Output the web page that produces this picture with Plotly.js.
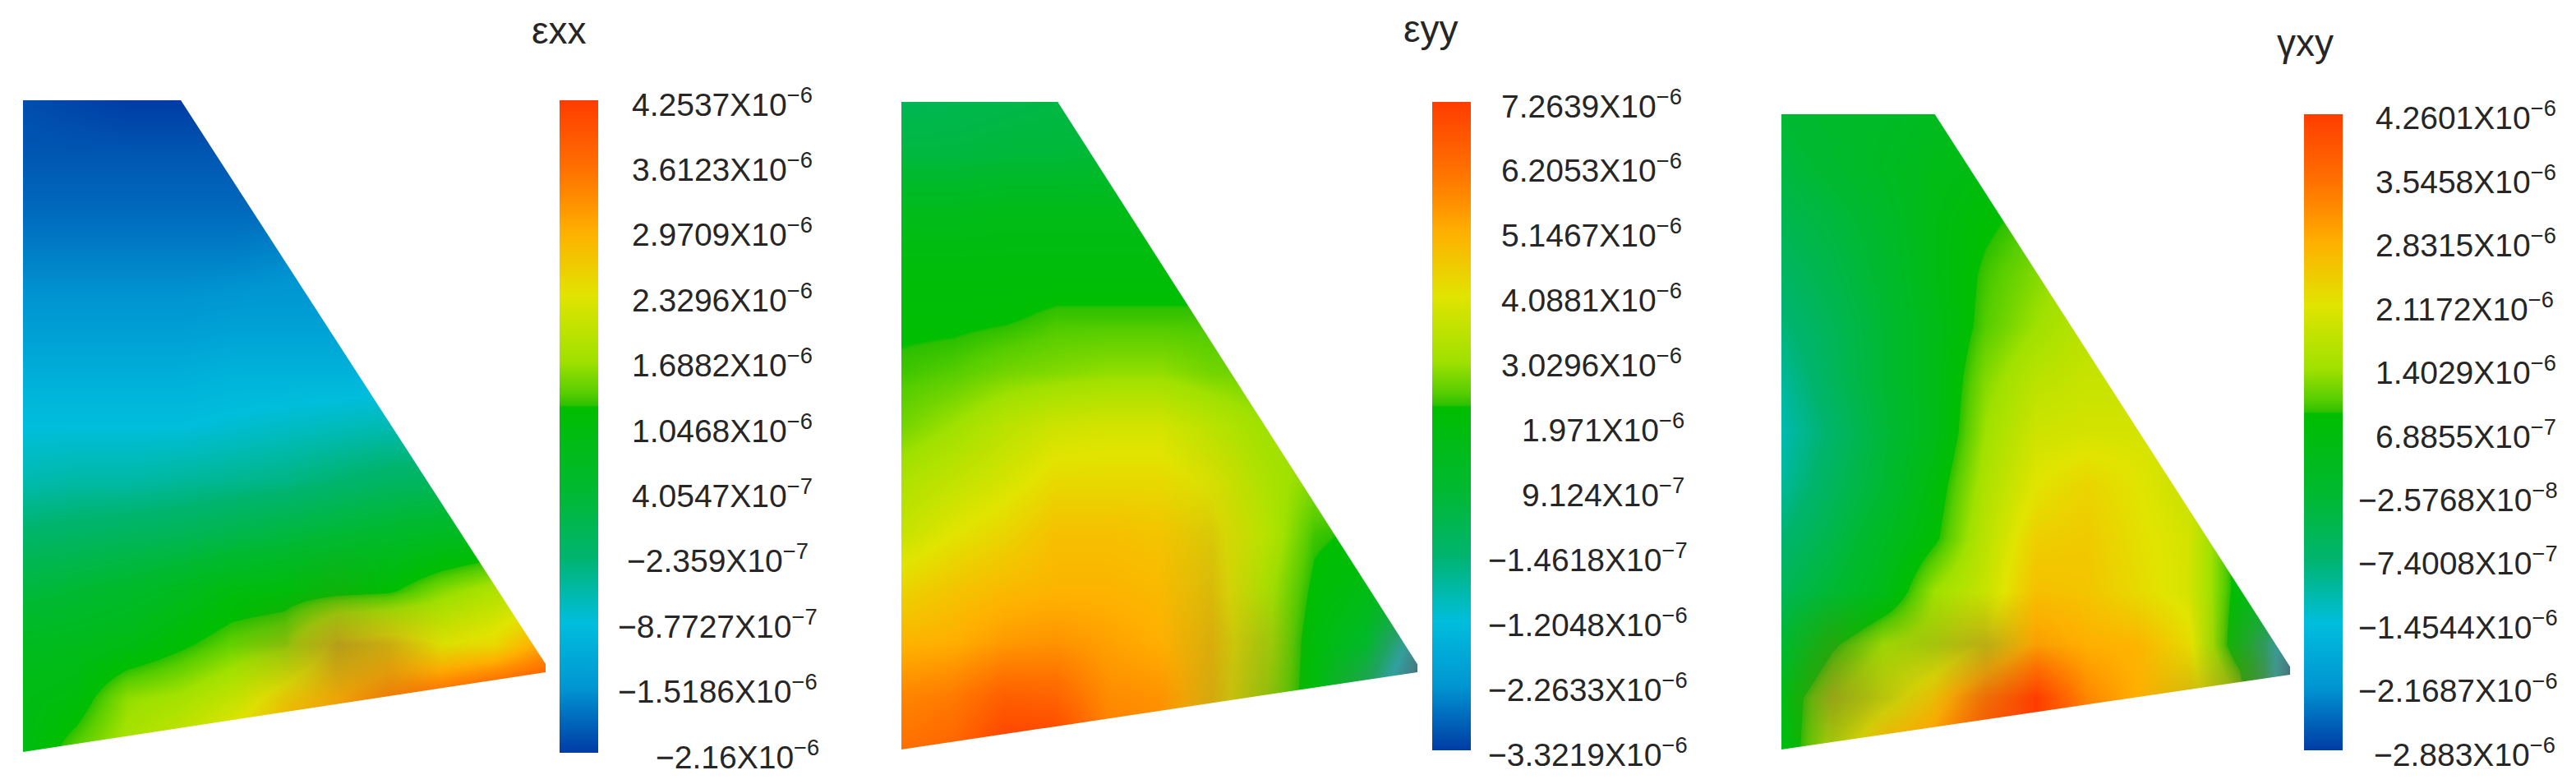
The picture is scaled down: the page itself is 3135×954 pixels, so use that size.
<!DOCTYPE html>
<html>
<head>
<meta charset="utf-8">
<script src="https://cdn.plot.ly/plotly-3.0.1.min.js"></script>
<style>html,body{margin:0;padding:0;background:#fff}</style>
</head>
<body>
<div id="chart" style="width:3135px;height:954px"></div>
<script>
// ---------- values ----------
var gridX = [0,0.1,0.2,0.3,0.4,0.5,0.6,0.7,0.8,0.9,1];
var gridY = [1,0.9167,0.8333,0.75,0.6667,0.5833,0.5,0.4167,0.3333,0.25,0.1667,0.0833,0];

// position of each sampled value on its legend: 0 = legend bottom, 1 = legend top
var exxLevels = [
 [.02,.01,.00,.00,.00,.01,.01,.01,.01,.01,.01],
 [.03,.03,.03,.03,.03,.03,.03,.03,.03,.03,.03],
 [.05,.05,.05,.05,.05,.05,.05,.05,.05,.05,.05],
 [.08,.08,.08,.08,.08,.09,.09,.09,.09,.09,.09],
 [.11,.11,.11,.11,.12,.12,.12,.12,.12,.12,.12],
 [.16,.16,.16,.16,.17,.17,.17,.17,.17,.17,.17],
 [.20,.20,.20,.20,.21,.22,.23,.24,.24,.24,.24],
 [.24,.25,.25,.26,.27,.28,.30,.32,.33,.33,.33],
 [.31,.32,.33,.34,.36,.38,.40,.42,.44,.46,.46],
 [.38,.40,.42,.45,.49,.50,.51,.52,.58,.62,.64],
 [.45,.46,.48,.52,.56,.58,.72,.74,.70,.72,.82],
 [.48,.50,.59,.61,.65,.74,.80,.87,.92,.98,1.0],
 [.48,.56,.62,.67,.74,.82,.88,.92,.96,1.0,1.0]
];
var eyyLevels = [
 [.34,.35,.36,.37,.38,.38,.38,.38,.38,.38,.38],
 [.38,.38,.39,.39,.40,.40,.40,.40,.40,.40,.40],
 [.46,.46,.47,.47,.47,.47,.47,.47,.47,.47,.47],
 [.50,.50,.50,.50,.50,.50,.50,.50,.50,.50,.50],
 [.52,.52,.525,.54,.54,.54,.54,.54,.54,.54,.54],
 [.54,.55,.57,.58,.59,.59,.57,.565,.56,.56,.56],
 [.57,.60,.64,.67,.68,.68,.64,.60,.60,.60,.60],
 [.62,.65,.68,.72,.72,.72,.69,.62,.58,.58,.58],
 [.66,.70,.73,.77,.77,.76,.72,.64,.54,.52,.52],
 [.73,.76,.78,.79,.79,.78,.74,.62,.52,.48,.46],
 [.79,.80,.83,.84,.82,.80,.76,.62,.50,.42,.15],
 [.86,.88,.93,.92,.85,.84,.76,.60,.50,.30,.00],
 [.90,.92,1.0,1.0,.88,.86,.76,.60,.50,.20,.00]
];
var gxyLevels = [
 [.40,.42,.43,.45,.46,.46,.46,.46,.46,.46,.46],
 [.38,.41,.44,.47,.49,.49,.49,.49,.49,.49,.49],
 [.35,.38,.42,.48,.52,.55,.56,.56,.56,.56,.56],
 [.32,.36,.41,.48,.54,.58,.62,.62,.62,.62,.62],
 [.29,.34,.40,.47,.55,.60,.64,.64,.64,.64,.64],
 [.26,.33,.40,.47,.58,.64,.66,.66,.66,.66,.66],
 [.24,.31,.39,.47,.60,.67,.68,.68,.68,.68,.68],
 [.26,.33,.40,.50,.62,.70,.73,.70,.66,.60,.60],
 [.30,.36,.44,.52,.64,.74,.75,.71,.68,.50,.50],
 [.34,.40,.47,.60,.66,.77,.76,.72,.68,.50,.45],
 [.40,.52,.60,.62,.70,.82,.80,.79,.72,.47,.10],
 [.48,.60,.66,.76,.90,1.0,.86,.80,.74,.60,.02],
 [.48,.62,.80,.85,.97,1.0,.90,.80,.72,.45,.02]
];

// greying of the colours where the picture shows dull browns (0 = none, 1 = full)
var exxDulling = [
 [0,0,0,0,0,0,0,0,0,0,0],[0,0,0,0,0,0,0,0,0,0,0],[0,0,0,0,0,0,0,0,0,0,0],
 [0,0,0,0,0,0,0,0,0,0,0],[0,0,0,0,0,0,0,0,0,0,0],[0,0,0,0,0,0,0,0,0,0,0],
 [0,0,0,0,0,0,0,0,0,0,0],[0,0,0,0,0,0,0,0,0,0,0],[0,0,0,0,0,0,0,0,0,0,0],
 [0,0,0,0,0,0,.10,0,0,0,0],
 [0,0,0,0,0,.25,.55,.35,.05,0,0],
 [0,0,0,0,0,.10,.15,.15,0,0,0],
 [0,0,0,0,0,0,0,0,0,0,0]
];
var eyyDulling = [
 [0,0,0,0,0,0,0,0,0,0,0],[0,0,0,0,0,0,0,0,0,0,0],[0,0,0,0,0,0,0,0,0,0,0],
 [0,0,0,0,0,0,0,0,0,0,0],[0,0,0,0,0,0,0,0,0,0,0],[0,0,0,0,0,0,0,0,0,0,0],
 [0,0,0,0,0,0,0,0,0,0,0],[0,0,0,0,0,0,.05,0,0,0,0],
 [0,0,0,0,0,0,.15,0,0,0,0],
 [0,0,0,0,0,0,.20,.05,0,0,0],
 [0,0,0,0,0,0,.25,.25,0,0,.5],
 [0,0,0,0,0,0,.30,.30,0,.3,.5],
 [0,0,0,0,0,0,.10,.10,0,.3,.5]
];
var gxyDulling = [
 [0,0,0,0,0,0,0,0,0,0,0],[0,0,0,0,0,0,0,0,0,0,0],[0,0,0,0,0,0,0,0,0,0,0],
 [0,0,0,0,0,0,0,0,0,0,0],[0,0,0,0,0,0,0,0,0,0,0],[0,0,0,0,0,0,0,0,0,0,0],
 [0,0,0,0,0,0,0,0,0,0,0],[0,0,0,0,0,0,0,0,0,0,0],[0,0,0,0,0,0,0,0,0,0,0],
 [0,0,0,0,0,0,0,0,0,0,0],
 [0,.25,.10,.25,.45,.05,0,0,0,.2,.5],
 [0,.50,.25,.10,.15,0,0,0,.25,.5,.5],
 [0,.20,.05,0,0,0,0,0,.25,.5,.5]
];

var panelNames = ['εxx','εyy','γxy'];

var exxTickVals = [4.2537e-6,3.6123e-6,2.9709e-6,2.3296e-6,1.6882e-6,1.0468e-6,4.0547e-7,-2.359e-7,-8.7727e-7,-1.5186e-6,-2.16e-6];
var eyyTickVals = [7.2639e-6,6.2053e-6,5.1467e-6,4.0881e-6,3.0296e-6,1.971e-6,9.124e-7,-1.4618e-7,-1.2048e-6,-2.2633e-6,-3.3219e-6];
var gxyTickVals = [4.2601e-6,3.5458e-6,2.8315e-6,2.1172e-6,1.4029e-6,6.8855e-7,-2.5768e-8,-7.4008e-7,-1.4544e-6,-2.1687e-6,-2.883e-6];

var exxTickText = ['4.2537X10<sup>−6</sup>','3.6123X10<sup>−6</sup>','2.9709X10<sup>−6</sup>','2.3296X10<sup>−6</sup>','1.6882X10<sup>−6</sup>','1.0468X10<sup>−6</sup>','4.0547X10<sup>−7</sup>','−2.359X10<sup>−7</sup>','−8.7727X10<sup>−7</sup>','−1.5186X10<sup>−6</sup>','−2.16X10<sup>−6</sup>'];
var eyyTickText = ['7.2639X10<sup>−6</sup>','6.2053X10<sup>−6</sup>','5.1467X10<sup>−6</sup>','4.0881X10<sup>−6</sup>','3.0296X10<sup>−6</sup>','1.971X10<sup>−6</sup>','9.124X10<sup>−7</sup>','−1.4618X10<sup>−7</sup>','−1.2048X10<sup>−6</sup>','−2.2633X10<sup>−6</sup>','−3.3219X10<sup>−6</sup>'];
var gxyTickText = ['4.2601X10<sup>−6</sup>','3.5458X10<sup>−6</sup>','2.8315X10<sup>−6</sup>','2.1172X10<sup>−6</sup>','1.4029X10<sup>−6</sup>','6.8855X10<sup>−7</sup>','−2.5768X10<sup>−8</sup>','−7.4008X10<sup>−7</sup>','−1.4544X10<sup>−6</sup>','−2.1687X10<sup>−6</sup>','−2.883X10<sup>−6</sup>'];

// ---------- style and layout ----------
var colorScale = [
 [0,'rgb(0,60,165)'],[.1,'rgb(0,150,210)'],[.2,'rgb(0,190,220)'],[.3,'rgb(0,180,110)'],
 [.4,'rgb(0,185,50)'],[.53,'rgb(0,190,0)'],[.532,'rgb(45,192,0)'],[.55,'rgb(85,205,0)'],
 [.6,'rgb(160,225,0)'],[.7,'rgb(225,228,0)'],[.8,'rgb(255,175,0)'],[.85,'rgb(255,140,0)'],
 [.9,'rgb(255,110,0)'],[1,'rgb(255,60,0)']
];
var dullScale = [[0,'rgba(140,105,45,0)'],[1,'rgba(140,105,45,1)']];
var W = 3135, H = 954, fs = 39, ink = '#262626';
var frames = [
 {left:28,  right:664,  top:122, bottom:916, topRight:0.302, tipY:0.1235, barL:681,  barT:122, barB:916, titleX:680,  titleY:37,
  labelL:[770,770,770,770,770,770,770,764,753,753,799]},
 {left:1097,right:1725, top:124, bottom:913, topRight:0.303, tipY:0.1204, barL:1743, barT:124, barB:913, titleX:1742, titleY:35,
  labelL:[1828,1828,1828,1828,1828,1853,1853,1812,1812,1812,1812]},
 {left:2168,right:2787, top:139, bottom:913, topRight:0.3016,tipY:0.119,  barL:2804, barT:139, barB:913, titleX:2805, titleY:52,
  labelL:[2892,2892,2892,2892,2892,2892,2871,2871,2871,2871,2890]}
];
var levels = [exxLevels, eyyLevels, gxyLevels];
var dulling = [exxDulling, eyyDulling, gxyDulling];
var tickVals = [exxTickVals, eyyTickVals, gxyTickVals];
var tickText = [exxTickText, eyyTickText, gxyTickText];

var traces = [], shapes = [], annotations = [];
var layout = {width:W, height:H, margin:{l:0,r:0,t:0,b:0}, paper_bgcolor:'#fff', plot_bgcolor:'#fff',
  font:{family:'"Liberation Sans", Arial, sans-serif', size:fs, color:ink}, showlegend:false};

frames.forEach(function(f,i){
  var ax = i===0 ? '' : String(i+1);
  var vals = tickVals[i], zmax = vals[0], zmin = vals[vals.length-1];
  var z = levels[i].map(function(r){return r.map(function(v){return zmin + v*(zmax-zmin);});});
  var axisBase = {range:[0,1], visible:false, fixedrange:true, showgrid:false, zeroline:false};
  layout['xaxis'+ax] = Object.assign({domain:[f.left/W, f.right/W], anchor:'y'+ax}, axisBase);
  layout['yaxis'+ax] = Object.assign({domain:[1-f.bottom/H, 1-f.top/H], anchor:'x'+ax}, axisBase);
  traces.push({type:'heatmap', x:gridX, y:gridY, z:z, xaxis:'x'+ax, yaxis:'y'+ax,
    zmin:zmin, zmax:zmax, zsmooth:'best', colorscale:colorScale, hoverinfo:'skip',
    colorbar:{x:f.barL/W, xanchor:'left', xpad:0, ypad:0, thickness:47, thicknessmode:'pixels',
      len:(f.barB-f.barT)/H, lenmode:'fraction', y:1-f.barB/H, yanchor:'bottom',
      outlinewidth:0, borderwidth:0, ticks:'', showticklabels:false, tickvals:vals}});
  traces.push({type:'heatmap', x:gridX, y:gridY, z:dulling[i], xaxis:'x'+ax, yaxis:'y'+ax,
    zmin:0, zmax:1, zsmooth:'best', colorscale:dullScale, showscale:false, hoverinfo:'skip'});
  // white cover outside the trapezoid of the model
  [ 'M '+f.topRight+' 1 L 1.01 '+f.tipY+' L 1.01 1.01 L '+f.topRight+' 1.01 Z',
    'M -0.01 0 L 1 '+f.tipY+' L 1.01 '+f.tipY+' L 1.01 -0.01 L -0.01 -0.01 Z'
  ].forEach(function(p){
    shapes.push({type:'path', xref:'x'+ax, yref:'y'+ax, path:p, fillcolor:'#fff', line:{width:0}, layer:'above'});
  });
  annotations.push({text:panelNames[i], xref:'paper', yref:'paper', x:f.titleX/W, y:1-f.titleY/H,
    xanchor:'center', yanchor:'middle', showarrow:false, font:{size:46, color:ink}});
  vals.forEach(function(v,k){
    var frac = (v-zmin)/(zmax-zmin);
    var py = f.barB - frac*(f.barB-f.barT);
    annotations.push({text:tickText[i][k], xref:'paper', yref:'paper', x:f.labelL[k]/W, y:1-py/H,
      xanchor:'left', yanchor:'middle', showarrow:false, xshift:-3, yshift:-2, font:{size:fs, color:ink}});
  });
});
layout.shapes = shapes;
layout.annotations = annotations;
Plotly.newPlot('chart', traces, layout, {displayModeBar:false, staticPlot:true});
</script>
</body>
</html>
